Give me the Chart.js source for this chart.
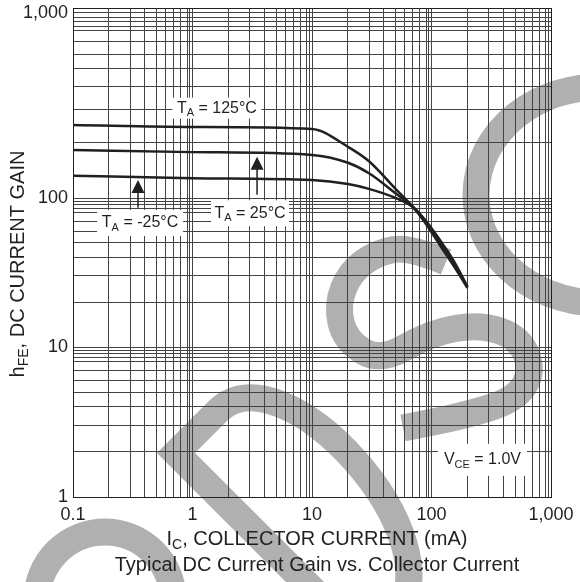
<!DOCTYPE html>
<html>
<head>
<meta charset="utf-8">
<script src="https://cdn.jsdelivr.net/npm/chart.js@4/dist/chart.umd.min.js"></script>
<style>
  html, body { margin: 0; padding: 0; background: #fff; }
  #wrap { width: 580px; height: 582px; }
</style>
</head>
<body>
<div id="wrap"><canvas id="gainChart" width="580" height="582"></canvas></div>
<script>
// Collector current (mA)
const currents = [0.1, 1, 10, 20, 30, 50, 70, 90, 120, 150, 200];
// DC current gain hFE for each ambient temperature
const gain125 = [248, 242, 236, 189, 158, 112, 87, 67, 47, 36, 25];
const gain25 = [182, 177, 171, 155, 136, 106, 87, 68.5, 49, 37.5, 25];
const gainMinus25 = [132, 128, 125, 119, 112, 100, 87, 70, 51, 39, 25.5];

// Labelled decades on each axis
const xDecades = [0.1, 1, 10, 100, 1000];
const xTickLabels = ['0.1', '1', '10', '100', '1,000'];
const yDecades = [1, 10, 100, 1000];
const yTickLabels = ['1', '10', '100', '1,000'];

// Annotation anchors, in data units (mA, hFE)
const noteAnchors = {
  t125: [1.6, 306],
  t25: [3.03, 79],
  tm25: [0.364, 68],
  vce: [267, 1.77]
};
// Arrows: [current, from hFE, to hFE]
const arrow25 = [3.47, 104, 167];
const arrowMinus25 = [0.35, 86, 125];

// The printed gain axis does not have equal decades; map log value -> fraction
const yLogKnots = [0, 1, 2, 3, Math.log10(1064)];
const yFracKnots = [0, 150 / 489, 299 / 489, 484 / 489, 1];

function interp(v, xs, ys) {
  for (let i = 0; i < xs.length - 1; i++) {
    if (v <= xs[i + 1] || i === xs.length - 2) {
      const t = (v - xs[i]) / (xs[i + 1] - xs[i]);
      return ys[i] + t * (ys[i + 1] - ys[i]);
    }
  }
}

class SheetLogScale extends Chart.LogarithmicScale {
  static id = 'sheetLog';
  static defaults = Chart.LogarithmicScale.defaults;
  getPixelForValue(value) {
    if (value === undefined || value === 0) value = this.min;
    if (value === null || isNaN(value)) return NaN;
    return this.getPixelForDecimal(interp(Math.log10(value), yLogKnots, yFracKnots));
  }
  getValueForPixel(pixel) {
    const d = this.getDecimalForPixel(pixel);
    return Math.pow(10, interp(d, yFracKnots, yLogKnots));
  }
}
Chart.register(SheetLogScale);

function gridValues(decades, extras) {
  const vals = [];
  for (let i = 0; i < decades.length - 1; i++) {
    const d = decades[i];
    for (let k = 1; k <= 9; k++) vals.push(k * d);
    extras.forEach(e => vals.push(e * d * 10));
  }
  vals.push(decades[decades.length - 1]);
  return vals.sort((a, b) => a - b).map(v => ({ value: v }));
}

function labelFor(value, decades, labels) {
  const i = decades.findIndex(d => Math.abs(d - value) / d < 1e-6);
  return i >= 0 ? labels[i] : '';
}

const FONT = '"Liberation Sans", Arial, Helvetica, sans-serif';
const INK = '#231f20';

// text with optional subscript pieces: [text, isSub]
function richWidth(ctx, parts, size) {
  let w = 0;
  parts.forEach(([t, sub]) => {
    ctx.font = (sub ? Math.round(size * 0.68) : size) + 'px ' + FONT;
    w += ctx.measureText(t).width;
  });
  return w;
}
function drawRich(ctx, parts, x, y, size) {
  let cx = x - richWidth(ctx, parts, size) / 2;
  ctx.textBaseline = 'middle';
  ctx.textAlign = 'left';
  parts.forEach(([t, sub]) => {
    ctx.font = (sub ? Math.round(size * 0.68) : size) + 'px ' + FONT;
    ctx.fillText(t, cx, sub ? y + size * 0.3 : y);
    cx += ctx.measureText(t).width;
  });
}

function smoothStroke(ctx, pts) {
  ctx.beginPath();
  ctx.moveTo(pts[0][0], pts[0][1]);
  for (let i = 1; i < pts.length - 1; i++) {
    const mx = (pts[i][0] + pts[i + 1][0]) / 2;
    const my = (pts[i][1] + pts[i + 1][1]) / 2;
    ctx.quadraticCurveTo(pts[i][0], pts[i][1], mx, my);
  }
  const last = pts[pts.length - 1];
  ctx.lineTo(last[0], last[1]);
  ctx.stroke();
}

// grey "BSC" watermark behind the grid
function drawWatermark(ctx) {
  ctx.save();
  ctx.strokeStyle = '#b0b0b0';
  ctx.lineWidth = 27;
  ctx.lineCap = 'butt';
  ctx.lineJoin = 'miter';
  // C
  ctx.beginPath();
  ctx.ellipse(600, 195, 124, 108, 0, Math.PI * 0.45, Math.PI * 1.6);
  ctx.stroke();
  // S
  smoothStroke(ctx, [[446, 262], [410, 247], [378, 252], [350, 272], [337, 305], [345, 340],
    [380, 362], [430, 333], [480, 324], [520, 338], [533, 372], [515, 400], [463, 416], [403, 428]]);
  // B, tilted
  const o = [176, 453], c = Math.SQRT1_2;
  const P = (u, v) => [o[0] + c * u + c * v, o[1] - c * u + c * v];
  ctx.beginPath();
  let p = P(0, 420); ctx.moveTo(p[0], p[1]);
  p = P(0, 0); ctx.lineTo(p[0], p[1]);
  p = P(60, 0); ctx.lineTo(p[0], p[1]);
  const a = P(150, 0), b = P(140, 260), e = P(40, 270);
  ctx.bezierCurveTo(a[0], a[1], b[0], b[1], e[0], e[1]);
  p = P(0, 270); ctx.lineTo(p[0], p[1]);
  ctx.stroke();
  ctx.beginPath();
  ctx.ellipse(105, 600, 68, 68, 0, Math.PI, Math.PI * 2);
  ctx.stroke();
  ctx.restore();
}

const sheetDecor = {
  id: 'sheetDecor',
  beforeDraw(chart) {
    const ctx = chart.ctx;
    ctx.save();
    ctx.fillStyle = '#fff';
    ctx.fillRect(0, 0, chart.width, chart.height);
    ctx.restore();
    drawWatermark(ctx);
  },
  beforeDatasetsDraw(chart) {
    const ctx = chart.ctx;
    const xs = chart.scales.x, ys = chart.scales.y;
    ctx.save();
    // label boxes knock out the grid
    const notes = [
      [noteAnchors.t125, [['T', false], ['A', true], [' = 125°C', false]], 89, 21],
      [noteAnchors.t25, [['T', false], ['A', true], [' = 25°C', false]], 78, 26],
      [noteAnchors.tm25, [['T', false], ['A', true], [' = -25°C', false]], 86, 26],
      [noteAnchors.vce, [['V', false], ['CE', true], [' = 1.0V', false]], 89, 32]
    ];
    notes.forEach(([at, parts, w, h]) => {
      const x = xs.getPixelForValue(at[0]), y = ys.getPixelForValue(at[1]);
      ctx.fillStyle = '#fff';
      ctx.fillRect(x - w / 2, y - h / 2, w, h);
      ctx.fillStyle = INK;
      drawRich(ctx, parts, x, y, 16);
    });
    // arrows
    [arrow25, arrowMinus25].forEach(([c, from, to]) => {
      const x = xs.getPixelForValue(c);
      const y0 = ys.getPixelForValue(from), y1 = ys.getPixelForValue(to);
      ctx.strokeStyle = INK;
      ctx.lineWidth = 1.5;
      ctx.beginPath();
      ctx.moveTo(x, y0);
      ctx.lineTo(x, y1 + 10);
      ctx.stroke();
      ctx.fillStyle = INK;
      ctx.beginPath();
      ctx.moveTo(x, y1);
      ctx.lineTo(x - 6.5, y1 + 13);
      ctx.lineTo(x + 6.5, y1 + 13);
      ctx.closePath();
      ctx.fill();
    });
    ctx.restore();
  },
  afterDraw(chart) {
    const ctx = chart.ctx;
    const area = chart.chartArea;
    ctx.save();
    ctx.strokeStyle = INK;
    ctx.lineWidth = 1;
    ctx.strokeRect(Math.round(area.left) + 0.5, Math.round(area.top) + 0.5,
      Math.round(area.right - area.left), Math.round(area.bottom - area.top));
    ctx.fillStyle = INK;
    drawRich(ctx, [['I', false], ['C', true], [', COLLECTOR CURRENT (mA)', false]], 317, 539, 20);
    drawRich(ctx, [['Typical DC Current Gain vs. Collector Current', false]], 317, 565, 20);
    ctx.translate(18, 264);
    ctx.rotate(-Math.PI / 2);
    drawRich(ctx, [['h', false], ['FE', true], [', DC CURRENT GAIN', false]], 0, 0, 20);
    ctx.restore();
  }
};

const ctx = document.getElementById('gainChart').getContext('2d');
const lineStyle = { borderColor: INK, borderWidth: 2.5, pointRadius: 0, fill: false, cubicInterpolationMode: 'monotone' };
const gainChart = new Chart(ctx, {
  type: 'line',
  data: {
    datasets: [
      Object.assign({ label: 'TA = 125°C', data: currents.map((c, i) => ({ x: c, y: gain125[i] })) }, lineStyle),
      Object.assign({ label: 'TA = 25°C', data: currents.map((c, i) => ({ x: c, y: gain25[i] })) }, lineStyle),
      Object.assign({ label: 'TA = -25°C', data: currents.map((c, i) => ({ x: c, y: gainMinus25[i] })) }, lineStyle)
    ]
  },
  options: {
    responsive: false,
    animation: false,
    layout: { padding: { top: 8, right: 29, left: 0, bottom: 0 } },
    plugins: { legend: { display: false }, tooltip: { enabled: false } },
    scales: {
      x: {
        type: 'logarithmic',
        min: 0.1,
        max: 1000,
        afterBuildTicks: s => { s.ticks = gridValues(xDecades, [0.95]); },
        afterFit: s => { s.height = 85; s.paddingLeft = 0; s.paddingRight = 0; },
        grid: { color: '#444', lineWidth: 1, drawTicks: false },
        border: { color: INK },
        ticks: {
          autoSkip: false, maxRotation: 0, padding: 7, color: INK,
          font: { family: FONT, size: 18 },
          callback: v => labelFor(v, xDecades, xTickLabels)
        }
      },
      y: {
        type: 'sheetLog',
        min: 1,
        max: 1064,
        afterBuildTicks: s => { s.ticks = gridValues(yDecades, [0.95, 0.85]); },
        afterFit: s => { s.width = 73; s.paddingTop = 0; s.paddingBottom = 0; },
        grid: { color: '#444', lineWidth: 1, drawTicks: false },
        border: { color: INK },
        ticks: {
          autoSkip: false, padding: 5, color: INK,
          font: { family: FONT, size: 18 },
          callback: v => labelFor(v, yDecades, yTickLabels)
        }
      }
    }
  },
  plugins: [sheetDecor]
});
</script>
</body>
</html>
